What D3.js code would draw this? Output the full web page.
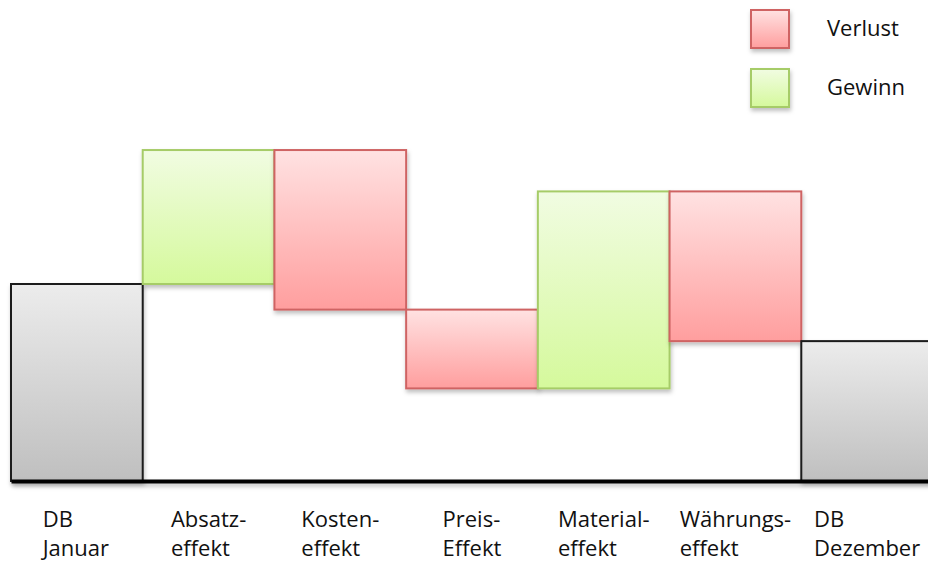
<!DOCTYPE html>
<html><head><meta charset="utf-8">
<script src="https://cdn.jsdelivr.net/npm/d3@7"></script>
<style>html,body{margin:0;padding:0;background:#fff;}svg{display:block;}</style>
</head><body><svg id="c" width="928" height="563"></svg>
<script>
const categories = ["DB\nJanuar","Absatz-\neffekt","Kosten-\neffekt","Preis-\nEffekt","Material-\neffekt","Währungs-\neffekt","DB\nDezember"];
const values = [100, 68, -81, -40, 100, -76, 71];
const kinds = ["total","delta","delta","delta","delta","delta","total"];
const legendLabels = ["Verlust","Gewinn"];

const svg = d3.select("#c");
const defs = svg.append("defs");
function grad(id, c1, c2){
  const g = defs.append("linearGradient").attr("id", id).attr("x1",0).attr("y1",0).attr("x2",0).attr("y2",1);
  g.append("stop").attr("offset","0%").attr("stop-color",c1);
  g.append("stop").attr("offset","100%").attr("stop-color",c2);
}
grad("gGray","#ececec","#bfbfbf");
grad("gRed","#ffe2e2","#ff9e9e");
grad("gGreen","#f1fce2","#d5f99c");
const f = defs.append("filter").attr("id","sh").attr("filterUnits","userSpaceOnUse")
  .attr("x",-100).attr("y",-600).attr("width",1200).attr("height",1400);
f.append("feDropShadow").attr("dx",1).attr("dy",3).attr("stdDeviation",2).attr("flood-color","#000").attr("flood-opacity",0.25);

const x = d3.scaleBand().domain(categories).range([11, 933]).padding(0);
const y = d3.scaleLinear().domain([0, 100]).range([481, 284]);

let run = 0;
const bars = categories.map((c,i) => {
  let y0, y1, type;
  if (kinds[i] === "total") { y0 = 0; y1 = values[i]; run = values[i]; type = "total"; }
  else { y0 = run; y1 = run + values[i]; run = y1; type = values[i] >= 0 ? "gain" : "loss"; }
  return {c, y0, y1, type};
});
const fill = {total:"url(#gGray)", gain:"url(#gGreen)", loss:"url(#gRed)"};
const stroke = {total:"#1a1a1a", gain:"#a6cc68", loss:"#cf6464"};

svg.append("g").selectAll("rect").data(bars).join("rect")
  .attr("x", d => x(d.c))
  .attr("width", x.bandwidth())
  .attr("y", d => y(Math.max(d.y0, d.y1)))
  .attr("height", d => Math.abs(y(d.y0) - y(d.y1)))
  .attr("fill", d => fill[d.type])
  .attr("stroke", d => stroke[d.type])
  .attr("stroke-width", 2)
  .attr("filter","url(#sh)");

// baseline axis
const axis = svg.append("g").attr("transform", `translate(0,${y(0)})`)
  .call(d3.axisBottom(x).tickSize(0).tickFormat(""));
axis.select(".domain").attr("stroke","#000").attr("stroke-width",4).attr("filter","url(#sh)");

// category labels (block centered, lines left aligned)
const lab = svg.append("g").attr("font-family","'Open Sans', sans-serif").attr("font-size",22).attr("fill","#111");
categories.forEach(c => {
  const lines = c.split("\n");
  const t = lab.append("text");
  lines.forEach((l,j) => t.append("tspan").attr("x",0).attr("y", 527 + j*29).text(l));
  const w = t.node().getBBox().width;
  t.attr("transform", `translate(${x(c) + x.bandwidth()/2 - w/2},0)`);
});

// legend
const lg = svg.append("g");
const legendFill = ["url(#gRed)","url(#gGreen)"];
const legendStroke = [stroke.loss, stroke.gain];
legendLabels.forEach((l,i) => {
  lg.append("rect").attr("x",751).attr("y",10 + i*59).attr("width",38).attr("height",38)
    .attr("fill",legendFill[i]).attr("stroke",legendStroke[i]).attr("stroke-width",2).attr("filter","url(#sh)");
  lg.append("text").attr("x",827).attr("y",36 + i*59).attr("font-family","'Open Sans', sans-serif").attr("font-size",22).attr("fill","#111").text(l);
});
</script></body></html>
